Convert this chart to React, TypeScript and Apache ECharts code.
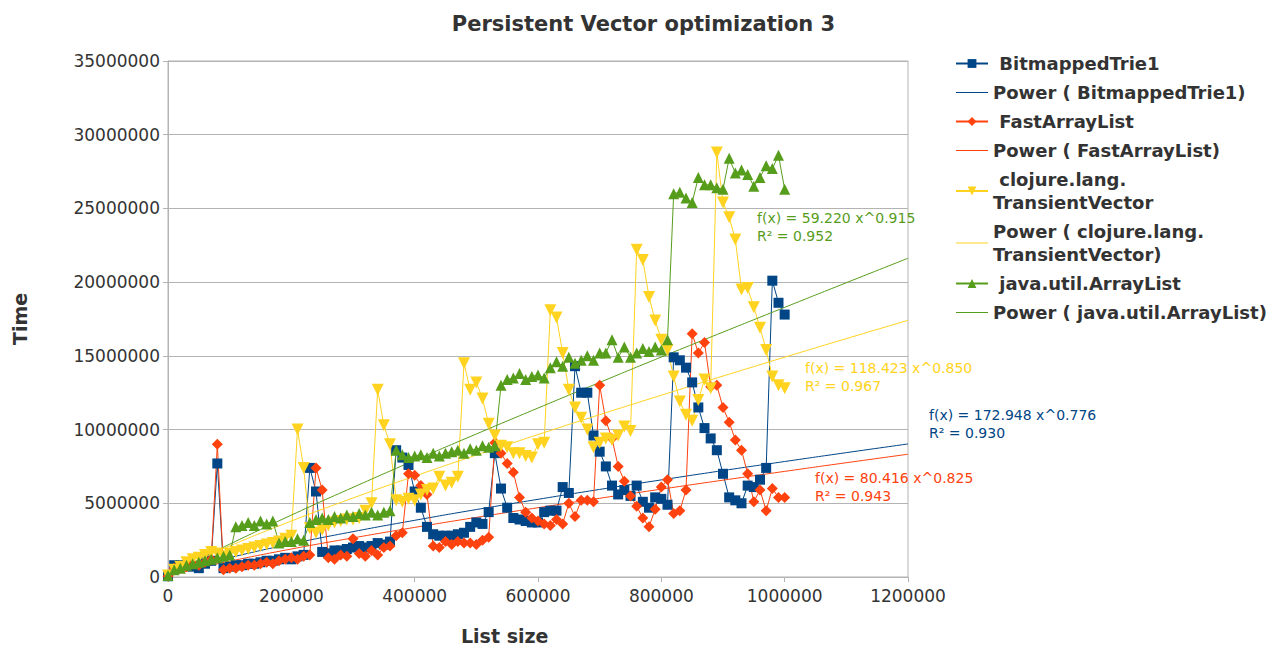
import React, { useEffect, useRef } from "react";
import * as echarts from "echarts";

const LIST_SIZE = [
  0, 10000, 20000, 30000, 40000, 50000, 60000, 70000, 80000, 90000,
  100000, 110000, 120000, 130000, 140000, 150000, 160000, 170000, 180000, 190000,
  200000, 210000, 220000, 230000, 240000, 250000, 260000, 270000, 280000, 290000,
  300000, 310000, 320000, 330000, 340000, 350000, 360000, 370000, 380000, 390000,
  400000, 410000, 420000, 430000, 440000, 450000, 460000, 470000, 480000, 490000,
  500000, 510000, 520000, 530000, 540000, 550000, 560000, 570000, 580000, 590000,
  600000, 610000, 620000, 630000, 640000, 650000, 660000, 670000, 680000, 690000,
  700000, 710000, 720000, 730000, 740000, 750000, 760000, 770000, 780000, 790000,
  800000, 810000, 820000, 830000, 840000, 850000, 860000, 870000, 880000, 890000,
  900000, 910000, 920000, 930000, 940000, 950000, 960000, 970000, 980000, 990000,
  1000000,
];

const BITMAPPED_TRIE = [
  0.05e6, 0.8e6, 0.8e6, 0.8e6, 0.7e6, 0.6e6, 0.9e6, 1.1e6, 7.7e6, 0.6e6,
  0.7e6, 0.8e6, 0.8e6, 0.9e6, 0.9e6, 1.0e6, 1.1e6, 1.1e6, 1.2e6, 1.3e6,
  1.2e6, 1.4e6, 1.5e6, 7.4e6, 5.8e6, 1.7e6, 1.6e6, 1.8e6, 1.8e6, 1.9e6,
  2.0e6, 2.1e6, 2.0e6, 2.1e6, 2.3e6, 2.2e6, 2.4e6, 8.6e6, 8.1e6, 7.6e6,
  5.8e6, 4.7e6, 3.4e6, 2.9e6, 2.8e6, 2.8e6, 2.8e6, 2.9e6, 3.0e6, 3.4e6,
  3.7e6, 3.6e6, 4.4e6, 8.4e6, 6.0e6, 4.7e6, 4.0e6, 3.9e6, 3.8e6, 3.7e6,
  3.7e6, 4.4e6, 4.5e6, 4.5e6, 6.1e6, 5.7e6, 14.3e6, 12.5e6, 12.5e6, 9.6e6,
  8.5e6, 7.5e6, 6.2e6, 5.6e6, 5.9e6, 5.5e6, 6.2e6, 5.1e6, 4.7e6, 5.4e6,
  5.3e6, 4.9e6, 14.9e6, 14.7e6, 14.2e6, 13.2e6, 11.5e6, 10.1e6, 9.4e6, 8.6e6,
  7.0e6, 5.4e6, 5.2e6, 5.0e6, 6.2e6, 6.1e6, 6.6e6, 7.4e6, 20.1e6, 18.6e6,
  17.8e6,
];

const FAST_ARRAY_LIST = [
  0.05e6, 0.6e6, 0.7e6, 0.7e6, 0.9e6, 0.8e6, 1.0e6, 1.2e6, 9.0e6, 0.5e6,
  0.6e6, 0.6e6, 0.7e6, 0.8e6, 0.8e6, 0.9e6, 1.0e6, 0.9e6, 1.1e6, 1.2e6,
  1.3e6, 1.2e6, 1.4e6, 1.5e6, 7.4e6, 5.9e6, 1.3e6, 1.2e6, 1.5e6, 1.4e6,
  2.6e6, 1.6e6, 1.4e6, 1.8e6, 1.5e6, 2.0e6, 2.1e6, 2.8e6, 3.0e6, 7.0e6,
  6.9e6, 6.2e6, 5.6e6, 2.1e6, 2.0e6, 2.4e6, 2.2e6, 2.4e6, 2.3e6, 2.3e6,
  2.2e6, 2.5e6, 2.7e6, 9.1e6, 8.4e6, 7.7e6, 7.1e6, 5.4e6, 4.4e6, 4.0e6,
  3.8e6, 3.6e6, 3.5e6, 3.9e6, 3.6e6, 5.0e6, 4.1e6, 5.2e6, 5.2e6, 5.1e6,
  13.0e6, 10.6e6, 9.4e6, 7.5e6, 6.5e6, 5.5e6, 4.8e6, 4.0e6, 3.4e6, 4.6e6,
  6.1e6, 6.6e6, 4.3e6, 4.5e6, 5.9e6, 16.5e6, 15.2e6, 15.9e6, 12.9e6, 13.0e6,
  11.5e6, 10.5e6, 9.3e6, 8.6e6, 7.0e6, 5.1e6, 5.9e6, 4.5e6, 6.0e6, 5.4e6,
  5.4e6,
];

const TRANSIENT_VECTOR = [
  0.1e6, 0.5e6, 0.7e6, 1.0e6, 1.2e6, 1.3e6, 1.5e6, 1.7e6, 1.6e6, 1.4e6,
  1.6e6, 1.7e6, 1.8e6, 1.9e6, 2.0e6, 2.1e6, 2.2e6, 2.3e6, 2.4e6, 2.6e6,
  2.8e6, 10.0e6, 7.4e6, 3.3e6, 3.0e6, 3.2e6, 3.5e6, 3.7e6, 3.8e6, 3.9e6,
  3.9e6, 4.0e6, 4.5e6, 5.0e6, 12.7e6, 10.3e6, 9.0e6, 5.2e6, 5.1e6, 5.3e6,
  5.2e6, 5.6e6, 5.9e6, 6.0e6, 6.8e6, 6.2e6, 6.4e6, 6.8e6, 14.5e6, 12.7e6,
  13.2e6, 12.1e6, 10.4e6, 9.6e6, 8.9e6, 8.8e6, 8.4e6, 8.4e6, 8.2e6, 8.1e6,
  9.0e6, 9.1e6, 18.1e6, 17.6e6, 15.2e6, 12.7e6, 11.5e6, 10.8e6, 10.0e6, 8.8e6,
  9.1e6, 9.4e6, 9.3e6, 9.6e6, 10.2e6, 9.9e6, 22.2e6, 21.5e6, 19.0e6, 17.4e6,
  16.1e6, 15.4e6, 13.6e6, 11.9e6, 11.0e6, 10.6e6, 12.0e6, 13.4e6, 12.8e6, 28.8e6,
  25.4e6, 24.4e6, 22.9e6, 19.5e6, 19.6e6, 18.3e6, 16.9e6, 15.4e6, 13.6e6, 13.0e6,
  12.8e6,
];

const JAVA_ARRAY_LIST = [
  0.1e6, 0.5e6, 0.6e6, 0.8e6, 0.9e6, 1.0e6, 1.1e6, 1.2e6, 1.3e6, 1.4e6,
  1.5e6, 3.4e6, 3.5e6, 3.7e6, 3.5e6, 3.8e6, 3.6e6, 3.8e6, 2.3e6, 2.4e6,
  2.4e6, 2.6e6, 2.5e6, 3.7e6, 3.9e6, 4.0e6, 3.9e6, 4.1e6, 4.0e6, 4.2e6,
  4.1e6, 4.3e6, 4.2e6, 4.4e6, 4.2e6, 4.4e6, 4.5e6, 8.6e6, 8.3e6, 8.1e6,
  8.2e6, 8.3e6, 8.1e6, 8.4e6, 8.2e6, 8.4e6, 8.5e6, 8.6e6, 8.4e6, 8.7e6,
  8.6e6, 8.9e6, 8.8e6, 8.9e6, 13.0e6, 13.4e6, 13.5e6, 13.8e6, 13.4e6, 13.6e6,
  13.7e6, 13.5e6, 14.2e6, 14.6e6, 14.3e6, 14.9e6, 14.5e6, 14.7e6, 15.0e6, 14.7e6,
  15.2e6, 15.2e6, 16.1e6, 14.9e6, 15.6e6, 14.9e6, 15.2e6, 15.5e6, 15.3e6, 15.6e6,
  15.4e6, 16.1e6, 26.0e6, 26.1e6, 25.7e6, 25.4e6, 27.1e6, 26.6e6, 26.6e6, 26.4e6,
  26.3e6, 28.4e6, 27.4e6, 27.6e6, 27.3e6, 26.5e6, 27.1e6, 27.9e6, 27.7e6, 28.6e6,
  26.3e6,
];

// Power trendlines, values
const TREND_X = [0, 10000, 20000, 50000, 100000, 200000, 300000, 400000, 500000, 600000, 700000, 800000, 900000, 1000000, 1100000, 1200000];
const TREND_BITMAPPED = [0, 0.22e6, 0.376e6, 0.766e6, 1.312e6, 2.246e6, 3.077e6, 3.845e6, 4.575e6, 5.269e6, 5.94e6, 6.587e6, 7.219e6, 7.833e6, 8.435e6, 9.024e6];
const TREND_FAST = [0, 0.16e6, 0.284e6, 0.605e6, 1.072e6, 1.899e6, 2.653e6, 3.364e6, 4.045e6, 4.701e6, 5.339e6, 5.96e6, 6.568e6, 7.164e6, 7.752e6, 8.327e6];
const TREND_TRANSIENT = [0, 0.298e6, 0.536e6, 1.168e6, 2.106e6, 3.796e6, 5.358e6, 6.842e6, 8.27e6, 9.66e6, 11.01e6, 12.33e6, 13.63e6, 14.91e6, 16.17e6, 17.41e6];
const TREND_JAVA = [0, 0.27e6, 0.51e6, 1.18e6, 2.225e6, 4.197e6, 6.08e6, 7.911e6, 9.7e6, 11.46e6, 13.2e6, 14.92e6, 16.61e6, 18.29e6, 19.96e6, 21.62e6];

const SERIES_NAMES = [
  "BitmappedTrie1",
  "Power ( BitmappedTrie1)",
  "FastArrayList",
  "Power ( FastArrayList)",
  "clojure.lang.\nTransientVector",
  "Power ( clojure.lang.\nTransientVector)",
  "java.util.ArrayList",
  "Power ( java.util.ArrayList)",
];

const EQUATIONS = [
  { f: "f(x) = 59.220 x^0.915", r: "R\u00b2 = 0.952", color: "#579d1c" },
  { f: "f(x) = 118.423 x^0.850", r: "R\u00b2 = 0.967", color: "#ffd320" },
  { f: "f(x) = 172.948 x^0.776", r: "R\u00b2 = 0.930", color: "#004586" },
  { f: "f(x) = 80.416 x^0.825", r: "R\u00b2 = 0.943", color: "#ff420e" },
];

const BLUE = "#004586";
const RED = "#ff420e";
const YELLOW = "#ffd320";
const GREEN = "#579d1c";
const FONT = "DejaVu Sans";
const LINE_ICON = "path://M0,5 L32,5 L32,6 L0,6 Z";

export default function App() {
  const ref = useRef<HTMLDivElement>(null);

  useEffect(() => {
    document.body.style.margin = "0";
    const chart = echarts.init(ref.current!, null, { renderer: "svg" });
    const pairs = (xs: number[], ys: number[]) => xs.map((x, i) => [x, ys[i]]);

    const dataSeries = (name: string, ys: number[], color: string, symbol: string, size: number, rotate = 0) => ({
      name,
      type: "line",
      data: pairs(LIST_SIZE, ys),
      symbol,
      symbolSize: size,
      symbolRotate: rotate,
      showAllSymbol: true,
      lineStyle: { color, width: 1 },
      itemStyle: { color },
      emphasis: { disabled: true },
    });
    const trendSeries = (name: string, ys: number[], color: string) => ({
      name,
      type: "line",
      data: pairs(TREND_X, ys),
      symbol: "none",
      smooth: true,
      lineStyle: { color, width: 1 },
      itemStyle: { color },
      emphasis: { disabled: true },
    });

    const eqPos = [
      [757, 218],
      [805, 368],
      [929, 415],
      [815, 478],
    ];

    chart.setOption({
      animation: false,
      backgroundColor: "#ffffff",
      title: {
        text: "Persistent Vector optimization 3",
        left: "center",
        top: 8,
        textStyle: { fontFamily: FONT, fontSize: 21, fontWeight: "bold", color: "#333333" },
      },
      legend: {
        orient: "vertical",
        left: 950,
        top: 47,
        itemWidth: 32,
        itemHeight: 11,
        itemGap: 6,
        data: SERIES_NAMES.map((n, i) => (i % 2 === 1 ? { name: n, icon: LINE_ICON } : { name: n })),
        formatter: (n: string) => (n.startsWith("Power") ? n : " " + n),
        textStyle: { fontFamily: FONT, fontSize: 18, fontWeight: "bold", color: "#333333", lineHeight: 23 },
      },
      grid: { left: 168, top: 61, right: 379, bottom: 75, show: true, borderColor: "#b3b3b3", borderWidth: 1 },
      xAxis: {
        type: "value",
        min: 0,
        max: 1200000,
        interval: 200000,
        axisLine: { show: true, onZero: false, lineStyle: { color: "#b3b3b3" } },
        axisTick: { show: true, length: 5, lineStyle: { color: "#b3b3b3" } },
        splitLine: { show: false },
        axisLabel: { fontFamily: FONT, fontSize: 17, color: "#333333", margin: 10, formatter: (v: number) => String(v) },
      },
      yAxis: {
        type: "value",
        min: 0,
        max: 35000000,
        interval: 5000000,
        name: "Time",
        nameLocation: "middle",
        nameGap: 139,
        nameTextStyle: { fontFamily: FONT, fontSize: 19, fontWeight: "bold", color: "#333333" },
        axisLine: { show: true, lineStyle: { color: "#b3b3b3" } },
        axisTick: { show: true, length: 5, lineStyle: { color: "#b3b3b3" } },
        splitLine: { show: true, lineStyle: { color: "#b3b3b3" } },
        axisLabel: { fontFamily: FONT, fontSize: 17, color: "#333333", margin: 8, formatter: (v: number) => String(v) },
      },
      graphic: [
        {
          type: "text",
          left: 461,
          top: 626,
          style: { text: "List size", fontFamily: FONT, fontSize: 19, fontWeight: "bold", fill: "#333333" },
        },
        ...EQUATIONS.map((e, i) => ({
          type: "text",
          x: eqPos[i][0],
          y: eqPos[i][1] - 9,
          style: {
            text: e.f + "\n" + e.r,
            fontFamily: FONT,
            fontSize: 14,
            lineHeight: 18,
            fill: e.color,
          },
        })),
      ],
      series: [
        dataSeries(SERIES_NAMES[0], BITMAPPED_TRIE, BLUE, "rect", 10),
        trendSeries(SERIES_NAMES[1], TREND_BITMAPPED, BLUE),
        dataSeries(SERIES_NAMES[2], FAST_ARRAY_LIST, RED, "diamond", 11),
        trendSeries(SERIES_NAMES[3], TREND_FAST, RED),
        dataSeries(SERIES_NAMES[4], TRANSIENT_VECTOR, YELLOW, "triangle", 12, 180),
        trendSeries(SERIES_NAMES[5], TREND_TRANSIENT, YELLOW),
        dataSeries(SERIES_NAMES[6], JAVA_ARRAY_LIST, GREEN, "triangle", 11),
        trendSeries(SERIES_NAMES[7], TREND_JAVA, GREEN),
      ],
    });
    return () => chart.dispose();
  }, []);

  return <div ref={ref} style={{ width: 1287, height: 652 }} />;
}
